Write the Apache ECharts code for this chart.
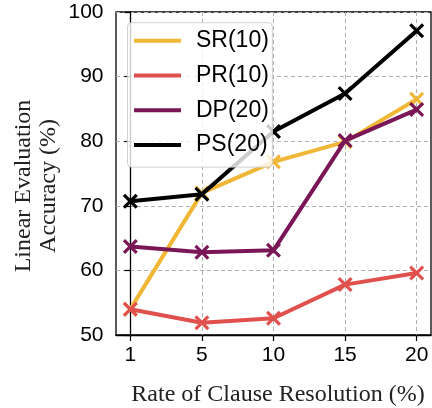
<!DOCTYPE html>
<html>
<head>
<meta charset="utf-8">
<script src="https://cdn.jsdelivr.net/npm/echarts@6/dist/echarts.min.js"></script>
<style>html,body{margin:0;padding:0;background:#fff}#c{width:432px;height:408px}</style>
</head>
<body>
<div id="c"></div>
<script>
const categories = ['1', '5', '10', '15', '20'];
const seriesNames = ['SR(10)', 'PR(10)', 'DP(20)', 'PS(20)'];
const srValues = [54.0, 72.0, 76.8, 79.9, 86.5];
const prValues = [54.0, 51.9, 52.6, 57.8, 59.6];
const dpValues = [63.7, 62.8, 63.1, 80.1, 84.9];
const psValues = [70.7, 71.8, 81.5, 87.4, 97.1];
const yTicks = [50, 60, 70, 80, 90, 100];

const colors = ['#F0B636', '#E0514E', '#7A1656', '#000000'];
const allValues = [srValues, prValues, dpValues, psValues];
const xMark = 'path://M0,1.5 L1.5,0 L5,3.5 L8.5,0 L10,1.5 L6.5,5 L10,8.5 L8.5,10 L5,6.5 L1.5,10 L0,8.5 L3.5,5 Z';
const sans = '"Liberation Sans", Arial, sans-serif';
const serif = '"Liberation Serif", "Times New Roman", serif';
const idx = categories.map((c, i) => i);

const chart = echarts.init(document.getElementById('c'), null, {renderer: 'canvas'});
chart.setOption({
  animation: false,
  backgroundColor: '#fff',
  grid: {left: 116, right: 1, top: 12, bottom: 73, show: true, borderColor: '#000', borderWidth: 1.3, backgroundColor: 'transparent'},
  legend: {
    left: 127.5, top: 22.7, orient: 'vertical', z: 20,
    data: seriesNames.map(n => ({name: n, icon: 'rect'})),
    itemWidth: 47, itemHeight: 4, itemGap: 11.7,
    padding: [6.6, 3.5, 10.7, 6.5],
    backgroundColor: 'rgba(255,255,255,0.8)', borderColor: '#d0d0d0', borderWidth: 1, borderRadius: 4,
    textStyle: {fontFamily: sans, fontSize: 23, lineHeight: 20, color: '#000', padding: [0, 0, 0, 10]}
  },
  xAxis: {
    type: 'value', min: -0.2, max: 4.2,
    axisLine: {show: true, lineStyle: {color: '#000', width: 1.3}},
    axisTick: {show: true, length: 6, customValues: idx, lineStyle: {color: '#000', width: 1.2}},
    axisLabel: {customValues: idx, formatter: v => categories[Math.round(v)], fontFamily: sans, fontSize: 21, color: '#000', margin: 10},
    splitLine: {show: true, lineStyle: {color: '#b0b0b0', type: [4, 3], width: 1}}
  },
  yAxis: {
    type: 'value', min: yTicks[0], max: yTicks[yTicks.length - 1], interval: 10,
    axisLine: {show: true, lineStyle: {color: '#000', width: 1.3}},
    axisTick: {show: true, length: 6, lineStyle: {color: '#000', width: 1.2}},
    axisLabel: {fontFamily: sans, fontSize: 21, color: '#000', margin: 12.5},
    splitLine: {show: true, lineStyle: {color: '#b0b0b0', type: [4, 3], width: 1}}
  },
  graphic: [
    {type: 'text', x: 36, y: 186, rotation: Math.PI / 2,
     style: {text: 'Linear Evaluation\nAccuracy (%)', fontFamily: serif, fontSize: 24, lineHeight: 25, align: 'center', verticalAlign: 'middle', fill: '#222'}},
    {type: 'text', x: 278, y: 395,
     style: {text: 'Rate of Clause Resolution (%)', fontFamily: serif, fontSize: 24, align: 'center', verticalAlign: 'middle', fill: '#222'}}
  ],
  series: seriesNames.map((n, s) => ({
    name: n, type: 'line',
    data: allValues[s].map((v, i) => [i, v]),
    color: colors[s],
    lineStyle: {width: 4, color: colors[s]},
    symbol: xMark, symbolSize: 15, showAllSymbol: true,
    itemStyle: {color: colors[s]},
    z: 2 + s
  }))
});
</script>
</body>
</html>
